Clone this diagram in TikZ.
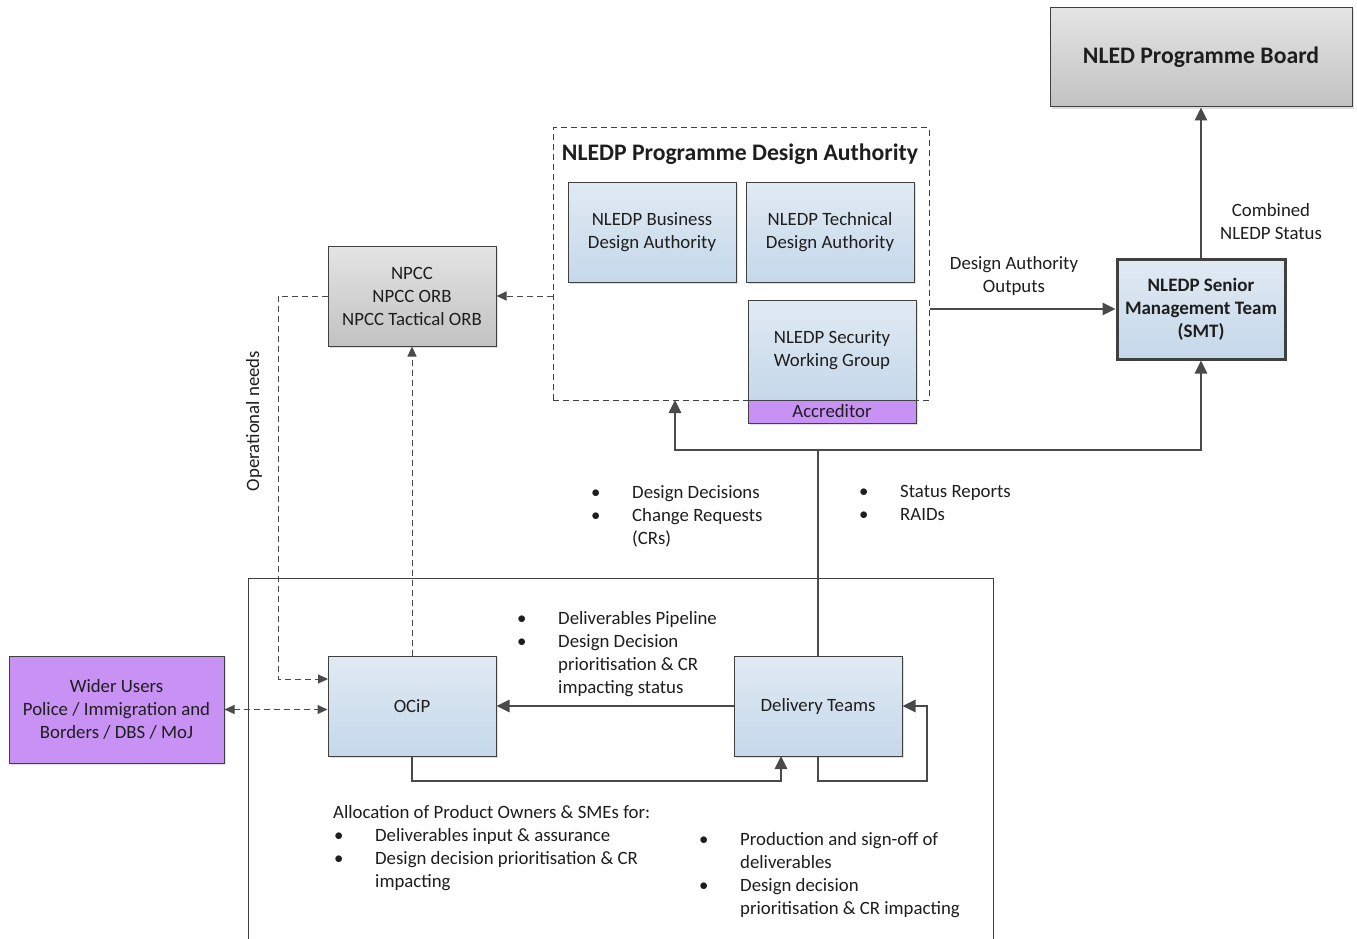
\documentclass[tikz,border=0pt]{standalone}
\usepackage{fontspec}
\setmainfont{Carlito}
\usetikzlibrary{arrows.meta,shadows,calc}
\definecolor{edge}{HTML}{404040}
\definecolor{lnk}{HTML}{4A4A4A}
\definecolor{bluetop}{HTML}{E1EAF3}
\definecolor{bluebot}{HTML}{C5D8EA}
\definecolor{graytop}{HTML}{E4E4E4}
\definecolor{graybot}{HTML}{C2C2C2}
\definecolor{purp}{HTML}{C892F4}
\definecolor{txt}{HTML}{1E1E1E}
\tikzset{
  every node/.style={text=txt},
  base/.style={draw=edge, line width=1pt, inner sep=2pt, align=center,
    font=\fontsize{18.8}{23}\selectfont,
    drop shadow={shadow xshift=2pt, shadow yshift=-2pt, opacity=0.25}},
  bluebox/.style={base, top color=bluetop, bottom color=bluebot,
    minimum width=168pt, minimum height=100pt},
  graybox/.style={base, top color=graytop, bottom color=graybot},
  purpbox/.style={base, fill=purp},
  arr/.style={draw=lnk, line width=2.7pt, -{Triangle[length=13pt,width=12pt]}},
  plain/.style={draw=lnk, line width=2.7pt},
  darr/.style={draw=lnk, line width=1pt, dash pattern=on 6pt off 4pt,
    -{Triangle[length=10pt,width=9pt]}},
  dline/.style={draw=lnk, line width=1pt, dash pattern=on 6pt off 4pt},
  lbl/.style={font=\fontsize{18.8}{23}\selectfont, inner sep=0pt, align=left},
  clbl/.style={font=\fontsize{18.8}{23}\selectfont, inner sep=0pt, align=center},
}
\newcommand{\bul}{\makebox[41pt][l]{\textbullet}}
\newcommand{\ind}{\hspace*{41pt}}
\begin{document}
\begin{tikzpicture}[x=1pt,y=-1pt]
\useasboundingbox[fill=white] (0,0) rectangle (1357,939);

% large frame (bottom edge is outside the picture)
\draw[draw=edge, line width=1pt] (248,945) -- (248,578) -- (993,578) -- (993,945);

% design authority
\node[draw=edge, line width=1pt, dash pattern=on 6pt off 4pt,
  minimum width=376pt, minimum height=272pt, inner sep=0pt] (da) at (741,264) {};
\node[inner sep=0pt, font=\bfseries\fontsize{23.7}{27}\selectfont] (datitle) at (740,154) {NLEDP Programme Design Authority};
\node[bluebox] (bda) at (652,232) {NLEDP Business\\Design Authority};
\node[bluebox] (tda) at (830,232) {NLEDP Technical\\Design Authority};
\node[bluebox] (swg) at (832,350) {NLEDP Security\\Working Group};
\node[purpbox, minimum width=168pt, minimum height=23pt, inner sep=0pt] (acc) at (832,411.5) {Accreditor};

% board and smt
\node[graybox, minimum width=302pt, minimum height=99pt, font=\bfseries\fontsize{23.7}{27}\selectfont] (board) at (1201,57.5) {NLED Programme Board};
\node[base, top color=bluetop, bottom color=bluebot, line width=3pt, minimum width=168pt, minimum height=100pt, font=\bfseries\fontsize{19}{23}\selectfont] (smt) at (1201,309) {NLEDP Senior\\Management Team\\(SMT)};

% npcc
\node[graybox, minimum width=168pt, minimum height=100pt] (npcc) at (412,296) {NPCC\\NPCC ORB\\NPCC Tactical ORB};

% bottom nodes
\node[purpbox, minimum width=215pt, minimum height=107pt] (wu) at (116.5,709.5) {Wider Users\\Police / Immigration and\\Borders / DBS / MoJ};
\node[bluebox] (ocip) at (412,706) {OCiP};
\node[bluebox] (dt) at (818,706) {Delivery Teams};

% coordinates
\coordinate (junc) at (818,450);
\coordinate (daIn) at (675,400);
\coordinate (opL) at (278,296);
\coordinate (opIn) at (328,679);
\coordinate (dtIn) at (781,756);
\coordinate (loopC) at (927,781);

% connectors
\draw[arr] (smt.north) -- (board.south);
\draw[arr] (da.east |- smt.west) -- (smt.west);
\draw[darr] (da.west |- npcc.east) -- (npcc.east);
\draw[dline] (npcc.west) -- (opL);
\draw[darr] (opL) |- (opIn);
\draw[darr] (ocip.north) -- (npcc.south);
\draw[dline, {Triangle[length=10pt,width=9pt]}-{Triangle[length=10pt,width=9pt]}] (wu.east) -- (wu.east -| ocip.west);
\draw[arr] (dt.west) -- (ocip.east);
\draw[arr] (ocip.south) |- ($(dtIn)+(0,25)$) -- (dtIn);
\draw[arr] (dt.south) |- (loopC) |- (dt.east);
\draw[plain] (dt.north) -- (junc);
\draw[arr] (junc) -| (daIn);
\draw[arr] (junc) -| (smt.south);

% labels
\node[clbl] (lcomb) at (1271,222) {Combined\\NLEDP Status};
\node[clbl] (ldao) at (1014,276) {Design Authority\\Outputs};
\node[clbl, rotate=90] (lop) at (254,421) {Operational needs};

\node[lbl, anchor=north west] (l1) at (591,485) {\bul Design Decisions\\\bul Change Requests\\\ind (CRs)};
\node[lbl, anchor=north west] (l2) at (859,485) {\bul Status Reports\\\bul RAIDs};
\node[lbl, anchor=north west] (l3) at (517,611) {\bul Deliverables Pipeline\\\bul Design Decision\\\ind prioritisation \& CR\\\ind impacting status};
\node[lbl, anchor=north west] (l4) at (333,805) {Allocation of Product Owners \& SMEs for:\\\hspace*{1pt}\bul Deliverables input \& assurance\\\hspace*{1pt}\bul Design decision prioritisation \& CR\\\hspace*{1pt}\ind impacting};
\node[lbl, anchor=north west] (l5) at (699,832) {\bul Production and sign-off of\\\ind deliverables\\\bul Design decision\\\ind prioritisation \& CR impacting};
\end{tikzpicture}
\end{document}
